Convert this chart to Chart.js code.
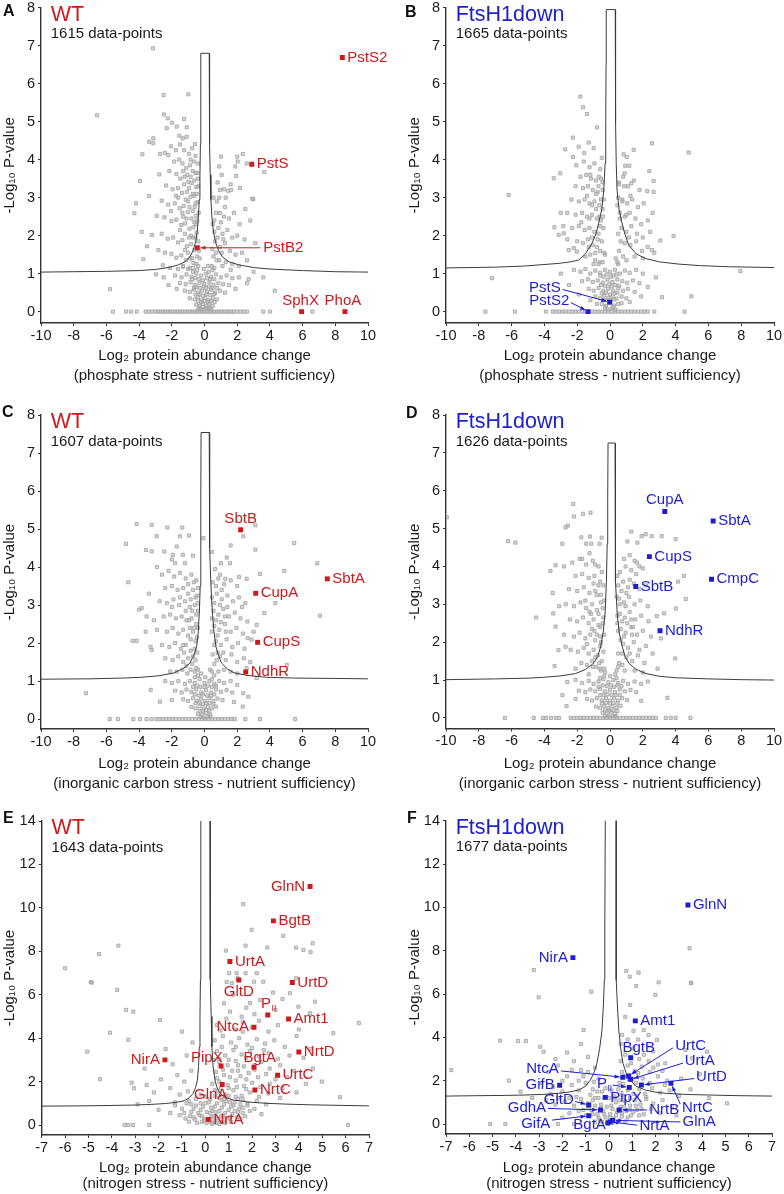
<!DOCTYPE html>
<html>
<head>
<meta charset="utf-8">
<script src="https://cdn.jsdelivr.net/npm/chart.js@4.4.1/dist/chart.umd.min.js"></script>
<style>
  body { margin: 0; background: #fff; width: 784px; height: 1194px; position: relative; overflow: hidden; }
  canvas { position: absolute; }
</style>
</head>
<body>
<canvas id="cA"></canvas>
<canvas id="cB"></canvas>
<canvas id="cC"></canvas>
<canvas id="cD"></canvas>
<canvas id="cE"></canvas>
<canvas id="cF"></canvas>
<script>
const FONT = '"Liberation Sans", Arial, Helvetica, sans-serif';
const RED = '#cc1a1d';
const BLUE = '#1d1dd2';

// tick labels
const ticksX10 = [-10, -8, -6, -4, -2, 0, 2, 4, 6, 8, 10];
const ticksX7 = [-7, -6, -5, -4, -3, -2, -1, 0, 1, 2, 3, 4, 5, 6, 7];
const ticksY8 = [0, 1, 2, 3, 4, 5, 6, 7, 8];
const ticksY14 = [0, 2, 4, 6, 8, 10, 12, 14];

// ---------- A: WT, phosphate stress ----------
const grayA = [
  [-3.15,6.93],[-6.57,5.17],[-2.5,5.7],[-0.99,5.72],[-2.48,5.19],[-2.25,5.09],[-2.0,4.97],[-1.25,5.07],[-2.31,4.83],[-1.7,4.87],
  [-1.09,4.85],[-1.54,4.63],[-1.33,4.56],[-1.09,4.6],[-3.38,4.47],[-3.13,4.43],[-3.13,4.56],[-3.8,4.14],[-2.72,4.15],[-2.42,4.18],
  [-2.21,4.12],[-0.58,4.41],[1.01,4.08],[2.34,4.15],[2.0,4.08],[0.9,3.82],[1.05,3.6],[1.88,3.82],[2.03,3.95],[2.58,3.9],
  [1.94,3.57],[2.17,3.25],[0.95,3.2],[1.2,3.22],[1.45,3.18],[1.63,3.2],[2.92,2.97],[3.66,3.68],[-3.94,3.44],[-2.76,3.61],
  [-3.39,3.04],[-4.19,2.85],[-4.29,2.59],[-3.84,2.1],[-3.74,1.38],[-2.97,0.98],[-5.78,0.59],[2.98,2.96],
  [-2.05,4.35],[-1.75,4.25],[-1.5,4.4],[-1.25,4.25],[-0.95,4.15],[-0.75,4.3],[-0.65,3.95],[-1.85,3.95],[-1.55,4.0],[-1.35,3.9],
  [-1.12,3.78],[-0.88,3.85],[-0.55,3.65],[-2.15,3.7],[-1.72,3.62],[-1.48,3.5],[-1.22,3.55],[-0.98,3.42],[-0.78,3.38],[-0.5,3.28],
  [-2.35,3.32],[-1.95,3.22],[-1.62,3.25],[-1.38,3.12],[-1.08,3.15],[-0.86,3.02],[-0.62,3.05],[-0.42,2.88],[-2.62,2.92],[-2.22,2.82],
  [-1.82,2.85],[-1.52,2.72],[-1.28,2.78],[-1.02,2.62],[-0.72,2.65],[-0.52,2.52],[-2.92,2.52],[-2.45,2.48],[-2.02,2.38],[-1.72,2.42],
  [-1.42,2.28],[-1.18,2.32],[-0.92,2.18],[-0.68,2.22],[-0.48,2.08],[-3.22,2.02],[-2.62,2.05],[-2.25,1.92],[-1.92,1.95],[-1.62,1.82],
  [-1.35,1.88],[-1.08,1.72],[-0.82,1.78],[-0.62,1.62],[-2.82,1.62],[-2.42,1.55],[-2.02,1.52],[-1.72,1.42],[-1.42,1.48],[-1.12,1.35],
  [-0.88,1.4],[-0.68,1.28],[-3.52,1.72],[-2.55,1.22],[-2.12,1.15],[-1.62,1.12],[-1.32,1.18],[-1.0,1.12],[-1.6,3.0],[-1.3,2.5],
  [-1.0,2.9],[-0.8,2.45],[-0.7,1.95],[-1.2,2.05],[-1.5,2.15],[-0.95,3.25],[-1.25,3.35],[-1.75,3.05],[-2.05,2.65],[-0.6,2.75],
  [-0.4,3.5],[-0.45,2.4],
  [0.75,2.9],[0.95,2.6],[1.25,2.75],[1.5,2.45],[1.8,2.6],[2.15,2.3],[0.6,2.4],[0.85,2.2],[1.1,2.05],[1.4,2.15],
  [1.7,1.95],[2.0,2.0],[2.45,1.9],[0.65,1.85],[0.95,1.7],[1.25,1.8],[1.55,1.6],[1.9,1.5],[2.3,1.55],[0.9,1.35],
  [1.3,1.3],[1.7,1.25],[2.1,1.2],[2.6,1.35],[2.8,2.4],[2.5,2.7],[1.3,3.0],[0.8,3.4],[1.6,3.35],[3.1,1.8],[0.55,3.0],
  [-1.8,0.95],[-1.4,0.9],[-1.1,0.98],[-0.8,0.92],[-0.5,1.0],[-0.2,0.95],[0.1,1.0],[0.4,0.92],[0.7,0.98],[1.0,0.9],
  [1.35,0.95],[1.7,0.88],[2.1,0.9],[-1.5,0.75],[-1.15,0.72],[-0.85,0.78],[-0.6,0.7],[-0.3,0.75],[0.0,0.72],[0.3,0.78],
  [0.55,0.7],[0.85,0.75],[1.15,0.72],[1.5,0.7],[-1.2,0.55],[-0.9,0.52],[-0.65,0.58],[-0.4,0.5],[-0.15,0.55],[0.15,0.52],
  [0.4,0.58],[0.65,0.5],[0.95,0.55],[1.25,0.5],[-0.9,0.35],[-0.6,0.32],[-0.4,0.38],[-0.2,0.3],[0.05,0.36],[0.25,0.3],
  [0.5,0.35],[0.75,0.32],[-0.5,0.18],[-0.3,0.15],[-0.1,0.2],[0.1,0.14],[0.3,0.2],[0.5,0.15],[-0.2,0.06],[0.0,0.05],
  [0.2,0.08],[-1.7,0.6],[-2.2,0.7],[1.9,0.6],[-2.5,0.9],[2.6,0.75],[-1.3,1.2],[-0.9,1.15],[0.2,1.2],[0.6,1.15],
  [1.1,1.2],[1.6,1.1],[2.7,0.85],[3.0,1.05],[3.6,0.9],[4.3,0.55]
];
const coreA = [
  [-0.7,1.05],[-0.45,1.1],[-0.05,1.12],[0.25,1.05],[0.5,1.1],[-0.75,0.85],[-0.55,0.88],[-0.35,0.85],[-0.1,0.82],[0.15,0.88],
  [0.35,0.85],[0.6,0.85],[-0.65,0.62],[-0.5,0.65],[-0.28,0.62],[-0.05,0.66],[0.1,0.62],[0.28,0.66],[0.5,0.62],[0.78,0.62],
  [-0.55,0.45],[-0.3,0.45],[-0.1,0.42],[0.12,0.46],[0.35,0.44],[0.6,0.46],[-0.4,0.28],[-0.2,0.25],[0.0,0.28],[0.18,0.25],
  [0.38,0.27],[0.62,0.25],[-0.3,0.1],[-0.1,0.12],[0.1,0.1],[0.3,0.1],[0.4,0.05],[-0.4,0.05],
  [-0.45,1.45],[-0.35,1.6],[-0.55,1.95],[-0.38,1.85],[-0.5,2.3],[-0.62,2.35],[-0.35,2.6],[-0.55,2.85],[-0.7,3.1],[-0.48,3.1],
  [-0.38,3.3],[-0.62,3.45],[-0.45,3.65],[-0.72,3.7],[-0.85,3.55],[-0.92,2.75],[-0.82,2.0],[-0.75,1.4],[-1.0,1.55],[-1.2,1.62],
  [-0.95,1.95],[-1.1,2.45],[-1.35,2.6],[-1.15,2.95],[-1.3,3.7],[-1.05,3.6],[-0.85,4.0],[-0.55,4.1],[-0.4,3.9],[-0.5,1.25],
  [-0.7,1.15],[-0.38,1.2],[-0.3,1.4],
  [0.45,1.2],[0.55,1.45],[0.75,1.35],[0.48,1.65],[0.7,1.55],[0.8,1.95],[0.6,2.1],[1.0,2.35],[0.7,2.6],[1.05,1.55],
  [1.15,1.9],[0.5,2.3],[0.9,3.0],[1.2,2.5]
];
const zeroA = [-5.6,-4.8,-4.5,-4.15,-3.6,-3.4,-3.2,-3.0,-2.85,-2.7,-2.55,-2.4,-2.25,-2.1,-1.95,-1.8,-1.65,-1.5,-1.35,-1.2,
  -1.05,-0.9,-0.75,-0.6,-0.45,-0.3,-0.15,0,0.15,0.3,0.45,0.6,0.75,0.9,1.05,1.2,1.35,1.5,1.65,1.8,2.0,2.2,2.4,2.6,3.6,4.0,6.6];
const curveA = [
  [-10,1.04],[-8,1.05],[-6,1.06],[-4,1.08],[-3,1.11],[-2.2,1.16],[-1.6,1.23],[-1.2,1.31],[-0.9,1.44],[-0.7,1.6],
  [-0.55,1.82],[-0.45,2.1],[-0.38,2.45],[-0.32,2.95],[-0.28,3.6],[-0.25,4.4],[-0.23,5.4],[-0.22,6.8],
  [0.29,6.8],[0.3,5.4],[0.32,4.4],[0.35,3.6],[0.39,2.95],[0.46,2.45],[0.55,2.1],[0.68,1.82],[0.86,1.6],[1.1,1.44],
  [1.5,1.31],[2.1,1.23],[3,1.16],[4,1.12],[6,1.08],[8,1.05],[10,1.04]
];
const namesA = ['PstS2', 'PstS', 'PstB2', 'SphX', 'PhoA'];
const hitsA = [[8.43,6.69],[2.89,3.88],[-0.44,1.68],[5.94,0],[8.59,0]];

// ---------- B: FtsH1down, phosphate stress ----------
const grayB = [
  [-1.81,5.66],[-1.65,5.38],[-1.4,5.2],[-0.79,4.85],[-2.26,4.58],[-1.91,4.34],[-2.73,4.27],[-1.57,4.17],[-2.26,4.07],[-3.03,3.64],
  [-3.43,3.51],[2.56,4.43],[4.8,4.19],[0.83,4.14],[1.44,4.26],[1.02,4.07],[0.93,3.84],[1.18,3.84],[2.4,3.7],[2.66,3.44],
  [0.89,3.64],[1.3,3.38],[2.27,3.17],[2.66,3.15],[-6.18,3.07],[3.07,1.87],[3.88,1.99],[2.56,1.62],[-7.2,0.88],[7.95,1.07],
  [3.17,0.38],[4.96,0.4],[-3.39,2.22],[-3.13,2.02],[-2.82,2.06],[-2.52,1.62],[-2.21,1.67],[-2.01,1.58],
  [-2.05,3.85],[-1.6,3.95],[-1.25,3.8],[-0.95,3.9],[-0.6,3.75],[-1.8,3.55],[-1.45,3.6],[-1.15,3.5],[-0.85,3.45],[-0.55,3.5],
  [-2.1,3.3],[-1.65,3.25],[-1.35,3.3],[-1.05,3.2],[-0.75,3.15],[-0.45,3.2],[-2.35,2.95],[-1.9,2.9],[-1.55,2.95],[-1.25,2.85],
  [-0.95,2.9],[-0.65,2.8],[-0.45,2.7],[-2.6,2.6],[-2.1,2.55],[-1.7,2.6],[-1.4,2.5],[-1.1,2.55],[-0.8,2.45],[-0.55,2.4],
  [-2.85,2.25],[-2.3,2.2],[-1.9,2.25],[-1.55,2.15],[-1.25,2.2],[-0.95,2.1],[-0.7,2.05],[-2.0,1.85],[-1.65,1.8],[-1.35,1.9],
  [-1.05,1.75],[-0.8,1.7],[-1.5,1.45],[-1.2,1.5],[-0.9,1.35],[-2.6,1.9],[-3.0,2.6],[-1.0,4.3],[-0.5,4.05],[-1.3,4.45],
  [-0.7,3.3],[-1.75,2.35],[-1.1,2.8],[-0.6,2.25],[-1.4,3.05],
  [0.55,3.4],[0.8,3.55],[1.1,3.3],[1.45,3.45],[1.8,3.2],[0.5,3.0],[0.75,2.95],[1.05,2.85],[1.35,2.95],[1.7,2.75],
  [2.05,2.85],[0.6,2.6],[0.9,2.5],[1.2,2.6],[1.55,2.45],[1.9,2.3],[2.3,2.4],[0.7,2.2],[1.0,2.1],[1.3,2.25],
  [1.65,2.05],[2.0,1.95],[2.45,2.1],[0.9,1.8],[1.25,1.75],[1.6,1.85],[1.95,1.6],[2.3,1.7],[1.5,1.45],[2.0,1.4],
  [2.7,1.55],[0.45,2.8],[2.6,2.6],
  [-2.2,1.1],[-1.8,1.05],[-1.5,1.12],[-1.2,1.0],[-0.9,1.08],[-0.6,1.02],[-0.3,1.1],[0.0,1.05],[0.3,1.1],[0.6,1.0],
  [0.9,1.08],[1.2,1.02],[1.6,1.1],[2.0,1.0],[-1.7,0.8],[-1.35,0.85],[-1.05,0.78],[-0.75,0.82],[-0.45,0.76],[-0.15,0.84],
  [0.15,0.78],[0.45,0.85],[0.75,0.8],[1.05,0.76],[1.4,0.82],[1.8,0.75],[-1.3,0.6],[-1.0,0.55],[-0.7,0.62],[-0.4,0.55],
  [-0.1,0.6],[0.2,0.55],[0.5,0.62],[0.8,0.55],[1.1,0.6],[1.5,0.52],[-0.9,0.4],[-0.6,0.35],[-0.35,0.42],[-0.1,0.36],
  [0.15,0.4],[0.4,0.34],[0.7,0.4],[1.0,0.35],[-0.5,0.2],[-0.25,0.15],[0.0,0.22],[0.25,0.16],[0.5,0.2],[-0.15,0.06],
  [0.1,0.08],[0.35,0.05],[-2.5,0.7],[2.3,0.65],[-3.0,1.0],[2.8,0.9],[-1.9,0.45],[1.9,0.4],[-0.6,1.3],[-0.3,1.5],
  [0.35,1.4],[0.5,1.25],[-1.0,1.25]
];
const coreB = [
  [-0.6,0.95],[-0.4,0.92],[-0.2,0.98],[0.05,0.92],[0.2,0.95],[0.4,0.98],[-0.55,0.7],[-0.3,0.68],[-0.05,0.72],[0.1,0.66],
  [0.3,0.7],[0.55,0.68],[-0.5,0.48],[-0.25,0.5],[0.0,0.45],[0.28,0.48],[0.45,0.5],[-0.4,0.3],[-0.2,0.3],[0.05,0.3],
  [0.25,0.32],[-0.3,0.1],[0.2,0.12],[-1.2,0.3],[-0.8,0.2],[0.7,0.22],[1.2,0.25],
  [-0.45,1.3],[-0.35,1.55],[-0.6,1.6],[-0.5,1.85],[-0.4,2.2],[-0.65,2.5],[-0.42,2.5],[-0.55,2.95],[-0.38,2.95],[-0.68,3.55],
  [-0.45,3.4],[-0.85,2.7],[-0.75,1.9],[-0.9,1.55],[-1.1,1.95],[-0.85,3.1],[-1.2,3.6],[-0.7,1.25],[-1.25,2.45],[-1.3,1.7],
  [0.45,1.3],[0.55,1.6],[0.5,2.05],[0.65,1.85],[0.8,1.45],[0.6,2.45],[0.75,2.9],[1.0,2.55],[1.15,1.95],[0.85,3.3],
  [1.25,3.05],[1.0,1.35],[0.55,3.35]
];
const zeroB = [-7.6,-5.8,-3.9,-3.5,-3.3,-3.1,-2.9,-2.7,-2.5,-2.3,-2.1,-1.9,-1.7,-1.5,-1.1,-0.9,-0.7,-0.5,-0.3,-0.1,
  0.1,0.3,0.5,0.7,0.9,1.1,1.3,1.5,1.7,1.9,2.1,2.3,2.7,4.55];
const curveB = [
  [-10,1.15],[-7,1.17],[-5.2,1.2],[-3.1,1.27],[-2.4,1.31],[-1.9,1.36],[-1.5,1.52],[-1.1,1.8],[-0.85,2.05],[-0.69,2.33],
  [-0.5,2.7],[-0.38,3.2],[-0.3,3.9],[-0.26,5.0],[-0.24,6.5],[-0.23,7.95],
  [0.32,7.95],[0.33,6.5],[0.35,5.0],[0.38,3.9],[0.43,3.2],[0.55,2.7],[0.73,2.33],[0.9,2.05],[1.14,1.75],[1.6,1.52],
  [2.15,1.4],[3.0,1.31],[4.2,1.25],[5.5,1.21],[7.3,1.18],[10,1.16]
];
const namesB = ['PstS', 'PstS2'];
const hitsB = [[-0.02,0.25],[-1.34,0]];

// ---------- C: WT, inorganic carbon stress ----------
const grayC = [
  [-4.8,4.61],[-4.15,5.13],[-3.23,5.11],[-2.27,5.04],[-1.36,5.04],[-2.92,4.81],[-1.5,4.81],[-0.95,4.83],[-0.07,4.76],[-3.58,4.45],
  [-3.23,4.41],[-2.46,4.41],[-1.7,4.54],[-1.33,4.32],[-1.94,4.32],[-1.8,4.1],[-4.66,3.6],[3.11,5.1],[2.37,4.81],[3.11,4.46],
  [1.6,4.57],[5.49,4.63],[6.9,4.1],[1.36,4.25],[1.56,4.1],[4.88,3.9],[3.4,3.82],[2.11,3.74],[0.95,3.8],[1.27,3.69],
  [2.58,3.69],[4.33,3.05],[3.66,2.79],[7.06,2.72],[2.62,2.57],[3.19,2.48],[-4.01,2.88],[-3.84,2.92],[-3.54,2.7],[-4.39,2.06],
  [-4.15,2.06],[-3.23,1.82],[2.64,2.13],[2.88,2.09],[2.58,1.34],[3.19,1.08],[5.03,1.43],[-3.29,0.77],[-7.25,0.68],[-2.72,0.46],
  [2.37,0.68],[2.68,0.59],[2.34,0.33],
  [-2.6,3.8],[-2.2,3.9],[-1.85,3.75],[-1.5,3.85],[-1.15,3.7],[-0.8,3.8],[-0.5,3.65],[-2.4,3.45],[-2.0,3.5],[-1.65,3.4],
  [-1.3,3.45],[-1.0,3.3],[-0.7,3.4],[-0.45,3.25],[-2.75,3.1],[-2.3,3.05],[-1.9,3.15],[-1.55,3.0],[-1.2,3.1],[-0.9,2.95],
  [-0.6,3.0],[-0.4,2.85],[-2.5,2.7],[-2.1,2.75],[-1.75,2.65],[-1.4,2.7],[-1.1,2.6],[-0.8,2.65],[-0.5,2.5],[-2.9,2.35],
  [-2.3,2.3],[-1.95,2.4],[-1.6,2.25],[-1.3,2.35],[-1.0,2.2],[-0.7,2.3],[-0.45,2.15],[-2.6,1.95],[-2.15,1.9],[-1.8,2.0],
  [-1.45,1.85],[-1.15,1.95],[-0.85,1.8],[-0.6,1.85],[-2.4,1.6],[-1.95,1.55],[-1.6,1.65],[-1.3,1.5],[-1.0,1.6],[-0.75,1.45],
  [-1.7,1.25],[-1.35,1.3],[-1.05,1.2],[-2.1,1.25],[-3.3,1.9],[-3.6,2.3],[-3.1,2.6],[-3.4,3.3],[-2.0,4.2],[-1.2,4.1],
  [-0.7,4.3],[-2.9,4.0],[-1.5,3.2],[-0.9,2.4],[-1.25,1.75],[-2.0,2.95],
  [0.5,3.6],[0.85,3.7],[1.2,3.55],[1.6,3.65],[2.0,3.5],[0.45,3.2],[0.75,3.3],[1.05,3.15],[1.4,3.25],[1.75,3.1],
  [2.1,3.2],[2.5,3.05],[0.55,2.85],[0.85,2.75],[1.15,2.9],[1.5,2.7],[1.85,2.8],[2.2,2.65],[0.6,2.45],[0.9,2.35],
  [1.25,2.5],[1.6,2.3],[1.95,2.4],[2.35,2.25],[0.7,2.05],[1.0,1.95],[1.35,2.1],[1.7,1.9],[2.05,2.0],[2.45,1.85],
  [0.95,1.65],[1.3,1.55],[1.65,1.7],[2.0,1.5],[2.4,1.6],[1.2,1.3],[1.6,1.25],[2.0,1.2],[2.8,1.5],[3.0,2.3],
  [0.65,3.95],[1.0,4.1],[0.45,4.4],[1.4,2.95],[0.8,1.75],[2.3,2.95],
  [-2.4,1.0],[-2.0,0.95],[-1.6,1.0],[-1.2,0.92],[-0.9,1.0],[-0.6,0.95],[-0.3,1.05],[0.0,0.95],[0.3,1.0],[0.6,0.92],
  [0.9,1.0],[1.2,0.95],[1.6,1.0],[2.0,0.9],[-1.8,0.75],[-1.4,0.7],[-1.1,0.78],[-0.8,0.72],[-0.5,0.78],[-0.2,0.7],
  [0.1,0.76],[0.4,0.7],[0.7,0.78],[1.0,0.72],[1.35,0.76],[1.7,0.7],[-1.3,0.52],[-1.0,0.48],[-0.7,0.55],[-0.45,0.48],
  [-0.2,0.54],[0.05,0.48],[0.3,0.55],[0.55,0.48],[0.8,0.54],[1.1,0.5],[-0.8,0.32],[-0.55,0.28],[-0.3,0.34],[-0.05,0.28],
  [0.2,0.32],[0.45,0.28],[0.7,0.33],[-0.4,0.14],[-0.15,0.12],[0.1,0.16],[0.35,0.12],[-0.05,0.04],[0.2,0.05],[-2.0,0.5],
  [1.8,0.45],[-0.2,1.2],[0.35,1.3],[-0.5,1.35],[0.6,1.15]
];
const coreC = [
  [-0.6,1.1],[-0.4,1.15],[0.05,1.1],[0.45,1.05],[-0.7,0.85],[-0.45,0.88],[-0.25,0.85],[0.0,0.84],[0.2,0.88],[0.45,0.85],
  [0.7,0.88],[-0.6,0.65],[-0.35,0.62],[-0.1,0.65],[0.15,0.62],[0.4,0.62],[0.6,0.65],[-0.55,0.42],[-0.3,0.44],[-0.1,0.4],
  [0.1,0.42],[0.32,0.42],[0.55,0.4],[-0.3,0.22],[-0.1,0.22],[0.1,0.24],[0.3,0.22],[-0.25,0.06],[0.35,0.06],
  [-0.4,1.3],[-0.55,1.55],[-0.45,1.75],[-0.7,1.65],[-0.55,2.05],[-0.4,2.4],[-0.65,2.4],[-0.5,2.75],[-0.75,2.85],[-0.38,3.05],
  [-0.55,3.2],[-0.85,3.15],[-0.4,3.45],[-0.65,3.6],[-1.0,3.55],[-0.85,2.1],[-1.1,1.4],[-0.85,1.3],[-0.95,2.6],[-1.15,2.85],
  [-0.6,1.25],[-1.3,1.95],
  [0.45,1.25],[0.6,1.45],[0.5,1.7],[0.75,1.55],[0.6,1.95],[0.45,2.3],[0.8,2.2],[0.45,2.65],[0.7,2.6],[1.0,2.55],
  [0.6,3.05],[0.95,3.0],[0.7,3.5],[1.05,3.4],[1.15,1.75],[0.85,1.25],[1.3,2.3],[1.25,2.7]
];
const zeroC = [-5.8,-5.3,-4.35,-3.95,-3.55,-3.25,-2.95,-2.75,-2.55,-2.35,-2.15,-1.95,-1.75,-1.55,-1.35,-1.15,-0.95,-0.75,
  -0.55,-0.35,-0.15,0.05,0.25,0.45,0.65,0.85,1.05,1.25,1.45,1.65,1.85,2.5,3.4,5.55];
const curveC = [
  [-10,1.05],[-7,1.06],[-5,1.08],[-3.9,1.1],[-2.8,1.14],[-1.9,1.21],[-1.3,1.33],[-0.9,1.47],[-0.65,1.68],[-0.48,1.91],
  [-0.38,2.3],[-0.32,2.79],[-0.26,3.5],[-0.23,4.5],[-0.22,6],[-0.21,7.54],
  [0.29,7.54],[0.3,6],[0.33,4.5],[0.38,3.67],[0.44,3.1],[0.5,2.7],[0.58,2.3],[0.7,1.91],[0.85,1.68],[1.05,1.47],
  [1.4,1.32],[1.8,1.22],[2.6,1.15],[3.8,1.1],[5.5,1.08],[7.9,1.07],[10,1.06]
];
const namesC = ['SbtB', 'SbtA', 'CupA', 'CupS', 'NdhR'];
const hitsC = [[2.21,4.98],[7.51,3.69],[3.13,3.31],[3.25,2.02],[2.52,1.24]];

// ---------- D: FtsH1down, inorganic carbon stress ----------
const grayD = [
  [-9.95,5.3],[-6.21,4.67],[-5.77,4.63],[-2.24,5.65],[-2.2,5.32],[-1.65,5.39],[-1.19,5.42],[-2.71,5.03],[-2.57,5.08],[-2.91,4.6],
  [-1.75,4.77],[-1.22,4.79],[-0.51,4.76],[-1.45,4.6],[-1.14,4.6],[-0.64,4.6],[-3.63,3.88],[-3.32,4.03],[-2.81,4.0],[1.3,4.92],
  [1.93,4.8],[2.17,4.85],[2.54,4.8],[3.15,4.8],[4.0,4.72],[1.06,4.66],[1.67,4.63],[4.15,3.6],[4.5,3.75],[-4.5,2.65],
  [-3.46,2.76],[-3.32,2.41],[-3.14,1.79],[-2.71,1.88],[-3.38,1.37],[-2.65,0.31],[4.62,3.14],[4.01,2.89],[3.5,0.53],[3.97,1.57],
  [3.3,2.76],[2.85,2.69],[1.2,4.3],[1.5,4.15],[1.8,4.0],[-1.7,4.2],[-1.25,4.35],[-0.9,4.05],
  [-2.3,4.1],[-1.85,4.2],[-1.45,4.05],[-1.05,4.15],[-0.7,4.0],[-2.1,3.75],[-1.7,3.8],[-1.3,3.7],[-0.95,3.75],[-0.6,3.6],
  [-2.5,3.4],[-2.0,3.35],[-1.6,3.45],[-1.25,3.3],[-0.9,3.35],[-0.55,3.25],[-2.7,3.0],[-2.2,2.95],[-1.8,3.05],[-1.45,2.9],
  [-1.1,3.0],[-0.8,2.85],[-0.45,2.9],[-2.45,2.6],[-2.0,2.55],[-1.65,2.65],[-1.3,2.5],[-1.0,2.6],[-0.7,2.45],[-0.45,2.5],
  [-2.8,2.2],[-2.2,2.15],[-1.85,2.25],[-1.5,2.1],[-1.2,2.2],[-0.9,2.05],[-0.6,2.15],[-2.4,1.8],[-1.95,1.75],[-1.6,1.85],
  [-1.3,1.7],[-1.0,1.8],[-0.75,1.65],[-1.75,1.45],[-1.4,1.4],[-1.1,1.5],[-0.85,1.35],[-2.1,1.3],[-1.3,1.15],[-3.1,2.95],
  [-3.5,3.3],[-0.5,3.85],[-1.5,3.1],[-0.95,2.3],[-0.6,1.9],[-1.25,2.8],
  [0.6,3.85],[0.95,4.0],[1.3,3.9],[1.65,4.1],[2.0,3.95],[0.5,3.5],[0.8,3.6],[1.1,3.45],[1.45,3.55],[1.8,3.4],
  [2.2,3.5],[0.55,3.15],[0.85,3.05],[1.15,3.2],[1.5,3.0],[1.85,3.1],[2.3,2.95],[0.6,2.75],[0.9,2.65],[1.2,2.8],
  [1.55,2.6],[1.9,2.7],[2.35,2.55],[0.65,2.35],[0.95,2.25],[1.3,2.4],[1.65,2.2],[2.0,2.3],[2.5,2.15],[0.8,1.95],
  [1.1,1.85],[1.45,2.0],[1.8,1.8],[2.2,1.9],[1.0,1.6],[1.35,1.5],[1.7,1.65],[2.1,1.45],[2.6,1.7],[1.5,1.25],
  [2.0,1.2],[2.9,1.3],[3.1,2.1],[0.45,2.5],[1.0,3.3],[1.4,2.4],[0.75,1.7],
  [-2.6,0.95],[-2.1,1.0],[-1.7,0.92],[-1.3,0.98],[-1.0,0.9],[-0.7,0.96],[-0.4,1.02],[-0.1,0.94],[0.2,1.0],[0.5,0.92],
  [0.8,0.98],[1.1,0.9],[1.5,0.96],[1.9,0.9],[2.3,0.96],[-1.9,0.72],[-1.5,0.68],[-1.2,0.75],[-0.9,0.7],[-0.6,0.76],
  [-0.3,0.7],[0.0,0.74],[0.3,0.68],[0.6,0.75],[0.9,0.7],[1.25,0.74],[1.6,0.68],[-1.4,0.5],[-1.1,0.46],[-0.8,0.52],
  [-0.5,0.46],[-0.25,0.52],[0.0,0.46],[0.25,0.52],[0.5,0.46],[0.75,0.52],[1.05,0.47],[-0.85,0.3],[-0.6,0.27],[-0.35,0.32],
  [-0.1,0.26],[0.15,0.31],[0.4,0.27],[0.65,0.32],[-0.45,0.14],[-0.2,0.11],[0.05,0.15],[0.3,0.11],[-0.1,0.04],[0.15,0.04],
  [-2.1,0.5],[1.9,0.45],[-0.3,1.2],[0.3,1.15],[-0.6,1.3],[0.5,1.35],[-2.9,0.6]
];
const coreD = [
  [-0.6,1.05],[-0.35,1.1],[0.0,1.1],[0.4,1.05],[-0.7,0.82],[-0.45,0.86],[-0.2,0.84],[0.05,0.86],[0.25,0.82],[0.45,0.86],
  [0.7,0.84],[-0.6,0.6],[-0.4,0.6],[-0.15,0.62],[0.1,0.6],[0.35,0.6],[0.6,0.6],[-0.5,0.38],[-0.25,0.4],[0.0,0.38],
  [0.2,0.4],[0.45,0.38],[-0.3,0.2],[-0.05,0.2],[0.2,0.2],[0.45,0.18],[-0.3,0.05],[0.35,0.05],
  [-0.35,1.3],[-0.5,1.5],[-0.4,1.75],[-0.65,1.45],[-0.55,2.0],[-0.35,2.2],[-0.6,2.4],[-0.4,2.65],[-0.7,2.75],[-0.35,3.1],
  [-0.55,3.05],[-0.8,3.25],[-0.4,3.5],[-0.7,3.5],[-1.0,3.55],[-0.8,2.2],[-1.05,1.35],[-0.9,1.6],[-1.1,2.35],[-1.15,2.75],
  [-0.55,1.25],[-1.4,1.95],
  [0.4,1.25],[0.55,1.45],[0.5,1.7],[0.75,1.4],[0.65,2.05],[0.5,2.3],[0.85,2.15],[0.45,2.7],[0.75,2.55],[1.05,2.5],
  [0.6,3.0],[0.95,2.95],[0.7,3.35],[1.2,3.65],[1.2,1.7],[0.9,1.25],[1.35,2.2],[1.3,2.6],[0.4,3.2],[0.45,3.75],
  [0.85,4.2],[1.6,3.8]
];
const zeroD = [-6.4,-4.65,-4.1,-3.9,-3.6,-3.3,-3.1,-2.4,-2.2,-2.0,-1.8,-1.6,-1.4,-1.2,-1.0,-0.8,-0.6,-0.4,-0.2,0.0,
  0.2,0.4,0.6,0.8,1.0,1.2,1.4,1.6,1.8,2.0,2.2,2.4,2.6,2.8,3.4,3.7,4.0,4.9];
const curveD = [
  [-10,1.01],[-7,1.03],[-5,1.05],[-4.1,1.07],[-3,1.11],[-2.1,1.17],[-1.5,1.28],[-1.0,1.44],[-0.75,1.62],[-0.57,1.88],
  [-0.42,2.25],[-0.3,2.76],[-0.22,3.6],[-0.17,4.6],[-0.14,5.8],[-0.12,7.26],
  [0.31,7.26],[0.32,5.8],[0.33,4.6],[0.35,3.6],[0.44,2.76],[0.56,2.25],[0.75,1.88],[0.92,1.62],[1.16,1.44],[1.6,1.28],
  [2.2,1.17],[3.0,1.1],[4.0,1.06],[6,1.03],[8,1.01],[10,1.0]
];
const namesD = ['CupA', 'SbtA', 'CupS', 'CmpC', 'SbtB', 'NdhR'];
const hitsD = [[3.34,5.45],[6.29,5.2],[2.4,4.26],[6.19,3.66],[1.57,3.47],[3.05,2.3]];

// ---------- E: WT, nitrogen stress ----------
const grayE = [
  [-6.0,7.22],[-4.55,7.87],[-3.72,8.26],[-4.9,6.58],[1.62,10.17],[1.98,8.99],[3.33,8.71],[1.72,8.26],[2.65,8.17],[3.88,8.17],
  [4.19,8.06],[4.5,7.96],[4.59,8.37],[0.88,8.03],[1.02,6.99],[1.34,6.99],[1.72,6.99],[2.2,6.99],[1.38,6.76],[2.08,6.6],
  [2.48,6.6],[0.91,6.59],[1.13,6.53],[3.88,6.76],[-3.77,6.22],[-4.86,6.56],[-3.39,5.3],[-3.08,5.22],[-1.94,4.84],[-4.08,4.25],
  [-5.05,3.38],[-3.3,3.92],[-3.15,1.95],[-3.05,1.69],[-2.51,1.84],[-4.51,2.11],[5.47,4.23],[6.57,4.69],[5.76,1.28],[4.98,2.0],
  [4.69,5.68],[3.98,5.45],[4.48,5.15],[3.62,6.07],[1.91,5.61],[2.34,5.76],[1.05,5.22],[1.55,4.99],
  [0.5,4.6],[0.9,4.9],[1.3,4.4],[1.6,4.75],[2.3,4.8],[2.7,4.3],[3.1,4.6],[0.4,3.9],[0.75,4.1],[1.1,3.8],
  [1.45,4.0],[1.8,3.7],[2.2,3.95],[2.55,3.75],[2.95,3.9],[3.4,3.6],[0.5,3.4],[0.85,3.2],[1.2,3.45],[1.55,3.25],
  [1.9,3.4],[2.3,3.15],[2.7,3.3],[3.1,3.05],[3.6,3.2],[0.6,2.9],[0.95,2.75],[1.3,2.95],[1.65,2.7],[2.4,2.9],
  [2.75,2.6],[3.2,2.75],[3.8,2.5],[0.45,2.45],[0.8,2.3],[1.15,2.5],[1.5,2.25],[1.85,2.4],[2.25,2.2],[2.6,2.35],
  [3.0,2.1],[3.5,2.2],[0.6,2.0],[0.95,1.85],[1.3,2.05],[1.65,1.8],[2.0,1.95],[2.35,1.75],[2.75,1.9],[3.3,1.7],
  [0.5,1.55],[0.85,1.4],[1.2,1.6],[1.55,1.35],[1.9,1.5],[2.3,1.3],[2.7,1.45],[3.2,1.25],[3.9,1.5],[0.7,1.15],
  [1.05,1.05],[1.4,1.2],[1.8,1.0],[2.2,1.1],[2.6,0.95],[4.3,1.9],[4.6,2.6],[4.2,3.1],[3.9,4.1],[4.5,3.5],
  [1.75,5.4],[2.1,5.1],[3.0,5.3],[0.8,5.6],[1.2,6.0],[2.9,6.1],[3.3,5.8],[4.0,4.4],[0.3,1.9],[0.35,3.0],
  [-0.6,2.5],[-0.9,2.0],[-1.2,2.3],[-0.75,1.55],[-1.1,1.4],[-1.5,1.7],[-1.9,2.1],[-2.2,1.5],[-1.4,2.8],[-0.8,3.2],
  [-2.6,2.6],[-1.7,3.5],[-2.4,1.1],[-1.3,1.05],[-0.7,1.1],[-2.9,0.95],[-0.55,3.8],[-1.0,4.3],
  [-1.3,0.9],[-1.0,0.75],[-0.8,1.0],[-0.6,0.6],[-0.4,0.9],[-0.2,0.7],[0.0,1.0],[0.2,0.55],[0.4,0.85],[0.6,0.65],
  [0.8,0.95],[1.0,0.7],[1.2,0.9],[1.4,0.6],[1.6,0.8],[1.9,0.65],[-1.1,0.45],[-0.85,0.3],[-0.65,0.4],[-0.45,0.25],
  [-0.25,0.45],[-0.05,0.3],[0.15,0.2],[0.35,0.4],[0.55,0.3],[0.75,0.45],[0.95,0.3],[1.15,0.5],[1.35,0.35],[-0.35,0.1],
  [-0.15,0.15],[0.05,0.08],[0.25,0.12],[0.45,0.1],[0.65,0.15],[-0.7,0.15],[0.85,0.1],[-1.5,0.55],[1.7,0.4],[2.1,0.75],
  [2.4,0.5],[-2.0,0.7],[-0.9,0.55],[0.3,0.65],[1.1,0.15]
];
const coreE = [
  [-0.4,1.2],[-0.2,1.4],[0.0,1.3],[0.2,1.2],[0.4,1.35],[0.6,1.25],[0.8,1.2],[1.0,1.35],[1.3,1.3],[1.6,1.2],
  [-0.6,0.95],[-0.2,1.0],[0.15,1.05],[0.5,1.0],[0.9,1.1],[1.25,1.05],[1.5,0.95],[-0.5,0.75],[-0.1,0.85],[0.25,0.8],
  [0.7,0.8],[1.1,0.85],[1.45,0.75],[1.8,0.9],[-0.3,0.55],[0.05,0.6],[0.45,0.6],[0.85,0.55],[1.25,0.65],[1.6,0.55],
  [-0.5,0.35],[-0.15,0.4],[0.25,0.35],[0.65,0.4],[1.05,0.35],[1.5,0.3],[-0.05,0.2],[0.4,0.2],[0.8,0.25],[0.3,0.05],
  [0.6,0.05],
  [0.4,1.6],[0.65,1.7],[1.0,1.7],[1.35,1.75],[1.75,1.65],[0.5,2.15],[0.75,2.55],[1.05,2.2],[1.4,2.5],[1.75,2.1],
  [2.1,2.55],[0.6,3.05],[1.0,3.0],[1.4,2.75],[1.75,3.1],[2.1,2.75],[0.7,3.6],[1.3,3.6],[2.0,3.55],[2.5,3.45],
  [1.6,4.3],[2.0,4.5],[0.65,4.35]
];
const zeroE = [-3.45, -3.3, -3.1, -2.4, 6.1];
const curveE = [
  [-7,0.87],[-5.5,0.88],[-4,0.9],[-3,0.92],[-2.3,0.95],[-1.7,0.99],[-1.2,1.05],[-0.9,1.12],[-0.7,1.25],[-0.52,1.46],
  [-0.42,1.72],[-0.34,2.07],[-0.29,2.7],[-0.26,3.6],[-0.23,5],[-0.21,6.7],[-0.2,9],[-0.19,14],[-0.19,15],
  [0.2,15],[0.2,14],[0.21,9],[0.22,6.7],[0.25,5],[0.28,3.6],[0.33,2.7],[0.41,2.07],[0.5,1.72],[0.63,1.46],[0.85,1.27],
  [1.2,1.15],[1.8,1.06],[2.6,1.0],[3.5,0.96],[4.5,0.93],[5.5,0.91],[7,0.88]
];
const namesE = ['GlnN', 'BgtB', 'UrtA', 'GltD', 'UrtD', 'PII', 'Amt1', 'NtcA', 'NirA', 'NrtD', 'PipX', 'BgtA', 'UrtC', 'GlnA', 'NrtC', 'NrtA'];
const hitsE = [[4.48,10.98],[2.91,9.4],[1.05,7.53],[1.43,6.68],[3.72,6.56],[2.67,5.07],[3.56,4.88],[2.08,4.5],
  [-1.73,3.0],[4.0,3.36],[0.67,2.72],[2.08,2.66],[3.09,2.29],[0.72,1.87],[2.12,1.61],[0.13,0.26]];

// ---------- F: FtsH1down, nitrogen stress ----------
const grayF = [
  [-3.23,7.11],[3.46,8.11],[0.74,7.06],[1.27,6.99],[0.89,6.8],[2.13,6.54],[3.53,6.5],[1.17,6.37],[-0.76,6.11],[3.52,6.52],
  [-3.02,5.85],[1.99,5.96],[-1.09,4.34],[-3.57,3.83],[-3.91,3.83],[-4.67,3.85],[-6.77,2.49],[-2.95,3.57],[-2.81,3.34],[5.07,0.95],
  [4.21,3.34],[3.28,3.42],[3.56,3.03],[2.42,2.8],[2.06,3.88],[1.49,4.34],[1.7,4.11],[0.56,4.11],[0.7,4.95],[0.91,5.49],
  [-2.6,2.4],[-2.2,2.7],[-1.8,2.2],[-1.5,2.9],[-1.2,2.5],[-0.9,3.1],[-0.6,2.6],[-2.9,1.9],[-2.4,1.7],[-2.0,1.5],
  [-1.6,1.8],[-1.3,1.55],[-1.0,1.9],[-0.7,1.6],[-0.45,2.1],[-3.3,1.2],[-2.7,1.1],[-2.3,0.9],[-1.9,1.05],[-1.5,0.85],
  [-1.2,1.15],[-0.9,0.95],[-0.6,1.2],[-0.35,0.9],[-1.7,0.5],[-1.3,0.6],[-1.0,0.4],[-0.75,0.65],[-0.5,0.45],[-0.25,0.6],
  [-0.4,0.2],[-0.15,0.3],[0.05,0.45],[0.2,0.25],[0.35,0.55],[0.55,0.35],[0.75,0.6],[0.95,0.4],[1.2,0.65],[1.5,0.45],
  [1.8,0.7],[2.2,0.5],[0.1,0.85],[0.3,1.0],[0.5,0.8],[0.7,1.05],[0.9,0.85],[1.1,1.1],[1.35,0.9],[1.6,1.15],
  [1.9,0.95],[2.3,1.1],[2.7,0.8],[0.55,1.35],[0.8,1.55],[1.05,1.4],[1.3,1.6],[1.55,1.4],[1.85,1.65],[2.2,1.45],
  [2.6,1.55],[3.0,1.3],[0.6,1.85],[0.85,2.05],[1.15,1.9],[1.45,2.1],[1.75,1.9],[2.1,2.2],[2.5,2.0],[3.1,2.1],
  [0.55,2.4],[0.8,2.7],[1.1,2.45],[1.4,2.65],[1.75,2.4],[2.1,2.75],[0.7,3.2],[1.05,3.5],[1.5,3.2],[1.9,3.35],
  [0.5,3.7],[1.25,3.9],[-1.8,3.3],[-1.2,3.7],[-2.3,3.0],[-0.3,1.5],[-0.2,1.2],[0.2,1.3],[3.5,1.6],[3.9,2.3],
  [4.3,1.2],[-3.8,1.5],[-4.3,2.0],[-2.0,0.3],[-0.05,0.1],[0.15,0.05],[2.9,0.4]
];
const coreF = [
  [-0.8,1.35],[-0.5,1.5],[-0.15,1.65],[0.1,1.55],[0.4,1.6],[-0.7,1.1],[-0.45,1.2],[0.0,1.2],[0.25,1.2],[0.45,1.1],
  [0.65,1.25],[0.9,1.2],[1.2,1.3],[-0.9,0.75],[-0.6,0.85],[-0.35,0.75],[-0.1,0.8],[0.15,0.7],[0.4,0.65],[0.65,0.8],
  [0.9,0.65],[1.15,0.85],[1.4,0.7],[-0.7,0.45],[-0.45,0.3],[-0.2,0.45],[0.05,0.3],[0.3,0.4],[0.55,0.5],[0.8,0.3],
  [1.05,0.55],[1.3,0.4],[-0.3,0.1],[0.1,0.18],[0.4,0.15],[0.7,0.12],[-0.6,0.1],
  [0.45,1.9],[0.7,2.2],[1.0,2.1],[1.25,2.35],[0.5,2.9],[0.95,2.8],[1.3,3.0],[1.7,2.9],[0.8,3.9],[1.05,4.3],
  [1.9,2.6],[2.3,2.45],[2.4,1.8],[1.6,1.25],[-1.1,2.2],[-1.6,2.5],[-2.0,2.0],[-1.4,1.25],[-1.7,1.2],[-2.2,1.2],
  [-0.9,2.4],[-0.65,1.95],[-1.3,2.0],[-2.5,1.4],[-1.1,0.65]
];
const zeroF = [-5.1, -4.45, -2.2, -1.5];
const curveF = [
  [-7,1.29],[-5.5,1.31],[-4.5,1.32],[-3.6,1.34],[-2.8,1.37],[-2.16,1.42],[-1.7,1.48],[-1.3,1.57],[-1.0,1.75],[-0.8,2.03],
  [-0.65,2.35],[-0.52,2.8],[-0.4,3.5],[-0.3,4.34],[-0.24,5.5],[-0.2,6.65],[-0.18,9],[-0.16,14],[-0.16,15],
  [0.31,15],[0.31,14],[0.31,9],[0.31,6.65],[0.36,5.5],[0.42,4.34],[0.5,3.5],[0.6,2.8],[0.74,2.35],[0.91,2.03],[1.15,1.75],
  [1.56,1.57],[2.0,1.47],[2.42,1.42],[3.2,1.37],[4.28,1.34],[5.5,1.31],[7,1.29]
];
const namesF = ['GlnN', 'NirA', 'Amt1', 'BgtB', 'UrtC', 'UrtA', 'NtcA', 'PII', 'UrtD', 'NrtC', 'GifB', 'PipX',
  'GltD', 'GdhA', 'NrtB', 'GifA', 'BgtA', 'NrtA', 'GlnA'];
const hitsF = [[3.39,10.11],[-1.55,7.68],[1.13,4.76],[0.93,3.06],[0.84,2.22],[0.93,2.06],[0.59,2.16],[0.87,1.69],
  [1.39,1.8],[2.66,1.88],[-2.12,1.79],[-0.16,1.23],[-0.87,0.88],[-0.37,0.65],[0.44,0.65],[-0.87,0.38],[-0.05,0.05],
  [0.05,0.1],[0.15,0.17]];

// label placement: [dx, dy, align, arrowStartDx, arrowStartDy] in pixels from the marker
const placeA = { PstB2: [66, 0, 'left', 63, 0], SphX: [-1, -11, 'center'], PhoA: [-2, -11, 'center'] };
const placeB = { PstS: [-49, -14.6, 'right', -47, -12.6], PstS2: [-18.7, -10.6, 'right', -17, -9] };
const placeC = { SbtB: [0, -11, 'center'] };
const placeD = { CupA: [0, -12, 'center'] };
const placeE = {
  GlnN: [-5, 0, 'right'], GltD: [0, 11.7, 'center'], PII: [-6.7, -11, 'left'], NtcA: [-5, 0, 'right'],
  NirA: [-5, 0, 'right'], PipX: [1.7, -7.7, 'right'], BgtA: [5.7, -9.6, 'center'], GlnA: [-11.5, 10.7, 'center']
};
const placeF = {
  NirA: [-5, 0, 'right'], BgtB: [8, -9.4, 'center'], UrtC: [46.6, -30, 'left', 44.3, -28],
  UrtA: [54, -18.3, 'left', 52.3, -16.3], UrtD: [54.7, -7.7, 'left', 52.7, -6.5], NtcA: [-64, -8, 'right', -61.7, -6.3],
  PII: [-32.3, -4, 'left', -16.3, -2.3], GifB: [-5, 0, 'right'], NrtC: [11, 24.4, 'left', 9.3, 20.7],
  GltD: [-15, -5, 'right', -13.7, -3.5], GdhA: [-54.3, -1.7, 'right', -52.3, -1.5], NrtB: [30, 0, 'left', 27.7, 0],
  GifA: [-38.4, 8.3, 'right', -36.7, 4.3], BgtA: [-2, 2.3, 'right'], GlnA: [70, 1.6, 'left', 68, 1.6],
  NrtA: [29.3, 4, 'left', 27, 3.3]
};

const panels = [
  { id: 'cA', x: 0, top: -20, h: 406, area: { l: 41, r: 368, t: 7.7, b: 323 }, xr: [-10, 10], yr: [-0.3, 8],
    xTicks: ticksX10, yTicks: ticksY8, lineH: 20, letter: 'A', letterAt: [3, 12], strain: 'WT', color: RED, count: 1615,
    sub: '(phosphate stress - nutrient sufficiency)', gray: grayA.concat(coreA), zero: zeroA, curve: curveA, names: namesA, hits: hitsA, place: placeA },
  { id: 'cB', x: 392, top: -20, h: 406, area: { l: 446, r: 774, t: 7.7, b: 323 }, xr: [-10, 10], yr: [-0.3, 8],
    xTicks: ticksX10, yTicks: ticksY8, lineH: 20, letter: 'B', letterAt: [405, 12.5], strain: 'FtsH1down', color: BLUE, count: 1665,
    sub: '(phosphate stress - nutrient sufficiency)', gray: grayB.concat(coreB), zero: zeroB, curve: curveB, names: namesB, hits: hitsB, place: placeB },
  { id: 'cC', x: 0, top: 387, h: 407, area: { l: 41, r: 368, t: 415, b: 729 }, xr: [-10, 10], yr: [-0.26, 8],
    xTicks: ticksX10, yTicks: ticksY8, lineH: 20, letter: 'C', letterAt: [2, 413], strain: 'WT', color: RED, count: 1607,
    sub: '(inorganic carbon stress - nutrient sufficiency)', gray: grayC.concat(coreC), zero: zeroC, curve: curveC, names: namesC, hits: hitsC, place: placeC },
  { id: 'cD', x: 392, top: 387, h: 407, area: { l: 446, r: 774, t: 415, b: 728.5 }, xr: [-10, 10], yr: [-0.28, 8],
    xTicks: ticksX10, yTicks: ticksY8, lineH: 20, letter: 'D', letterAt: [406, 413.5], strain: 'FtsH1down', color: BLUE, count: 1626,
    sub: '(inorganic carbon stress - nutrient sufficiency)', gray: grayD.concat(coreD), zero: zeroD, curve: curveD, names: namesD, hits: hitsD, place: placeD },
  { id: 'cE', x: 0, top: 793, h: 399, area: { l: 41.7, r: 369, t: 821, b: 1135 }, xr: [-7, 7], yr: [-0.46, 14],
    xTicks: ticksX7, yTicks: ticksY14, lineH: 16, letter: 'E', letterAt: [3, 819], strain: 'WT', color: RED, count: 1643,
    sub: '(nitrogen stress - nutrient sufficiency)', gray: grayE.concat(coreE), zero: zeroE, curve: curveE, names: namesE, hits: hitsE, place: placeE },
  { id: 'cF', x: 392, top: 793, h: 399, area: { l: 446, r: 772, t: 820.7, b: 1134 }, xr: [-7, 7], yr: [-0.46, 14],
    xTicks: ticksX7, yTicks: ticksY14, lineH: 16, letter: 'F', letterAt: [407, 819], strain: 'FtsH1down', color: BLUE, count: 1677,
    sub: '(nitrogen stress - nutrient sufficiency)', gray: grayF.concat(coreF), zero: zeroF, curve: curveF, names: namesF, hits: hitsF, place: placeF }
];

function drawArrow(ctx, x0, y0, x1, y1) {
  const a = Math.atan2(y1 - y0, x1 - x0);
  const ex = x1 - Math.cos(a) * 3.2, ey = y1 - Math.sin(a) * 3.2;
  ctx.beginPath(); ctx.moveTo(x0, y0); ctx.lineTo(ex, ey); ctx.stroke();
  const bx = ex - Math.cos(a) * 5, by = ey - Math.sin(a) * 5;
  ctx.beginPath();
  ctx.moveTo(ex, ey);
  ctx.lineTo(bx + Math.sin(a) * 2, by - Math.cos(a) * 2);
  ctx.lineTo(bx - Math.sin(a) * 2, by + Math.cos(a) * 2);
  ctx.closePath(); ctx.fill();
}

// panel letter, strain, count and the protein labels
function annotations(p) {
  return {
    id: 'annot' + p.letter,
    afterDraw(chart) {
      const { ctx, chartArea: a } = chart;
      const xs = chart.scales.x, ys = chart.scales.y;
      ctx.save();
      ctx.textAlign = 'left';
      ctx.textBaseline = 'middle';
      ctx.fillStyle = '#111';
      ctx.font = 'bold 16px ' + FONT;
      ctx.fillText(p.letter, p.letterAt[0] - p.x, p.letterAt[1] - p.top);
      ctx.textBaseline = 'alphabetic';
      ctx.fillStyle = p.color;
      ctx.font = '21.5px ' + FONT;
      ctx.fillText(p.strain, a.left + 9.7, a.top + 13.3);
      ctx.fillStyle = '#1a1a1a';
      ctx.font = '15px ' + FONT;
      ctx.fillText(p.count + ' data-points', a.left + 9.7, a.top + 30.7);

      ctx.fillStyle = p.color;
      ctx.strokeStyle = p.color;
      ctx.lineWidth = 1;
      ctx.textBaseline = 'middle';
      p.names.forEach((name, i) => {
        const px = xs.getPixelForValue(p.hits[i][0]);
        const py = ys.getPixelForValue(p.hits[i][1]);
        const pl = p.place[name] || [5, 0, 'left'];
        ctx.font = '15px ' + FONT;
        ctx.textAlign = pl[2];
        if (name === 'PII') {
          ctx.fillText('P', px + pl[0], py + pl[1]);
          const w = ctx.measureText('P').width;
          ctx.font = '8.5px ' + FONT;
          ctx.fillText('II', px + pl[0] + w + 0.5, py + pl[1] + 5);
        } else {
          ctx.fillText(name, px + pl[0], py + pl[1]);
        }
        if (pl.length > 3) drawArrow(ctx, px + pl[3], py + pl[4], px, py);
      });
      ctx.restore();
    }
  };
}

panels.forEach(p => {
  const cv = document.getElementById(p.id);
  const w = 392;
  cv.width = w; cv.height = p.h;
  cv.style.left = p.x + 'px'; cv.style.top = p.top + 'px';
  cv.style.width = w + 'px'; cv.style.height = p.h + 'px';
  const padL = p.x === 0 ? 0 : 13;
  const yW = p.area.l - p.x - padL;
  const xH = p.top + p.h - p.area.b;
  const axisCommon = {
    type: 'linear',
    border: { color: '#333', width: 1.4 },
    grid: { drawOnChartArea: false, drawTicks: true, tickLength: 3, color: '#333', lineWidth: 1 }
  };
  new Chart(cv, {
    type: 'scatter',
    data: {
      datasets: [
        { label: 'marked proteins', data: p.hits.map(([x, y]) => ({ x, y })), pointStyle: 'rect', pointRadius: 3.5,
          backgroundColor: p.color, borderColor: p.color, borderWidth: 0, order: 0 },
        { label: 'significance threshold', data: p.curve.map(([x, y]) => ({ x, y })), showLine: true, borderColor: '#3c3c3c',
          borderWidth: 1, pointRadius: 0, tension: 0, order: 1 },
        { label: 'proteins', data: p.gray.concat(p.zero.map(x => [x, 0])).map(([x, y]) => ({ x, y })), pointStyle: 'rect',
          pointRadius: 2.2, borderColor: '#a6a6a6', backgroundColor: 'rgba(180,180,180,0.5)', borderWidth: 0.9, order: 2 }
      ]
    },
    options: {
      responsive: false,
      animation: false,
      devicePixelRatio: 1,
      events: [],
      layout: { padding: { left: padL, right: p.x + w - p.area.r, top: p.area.t - p.top, bottom: 0 } },
      plugins: { legend: { display: false }, tooltip: { enabled: false } },
      scales: {
        x: Object.assign({}, axisCommon, {
          min: p.xr[0], max: p.xr[1],
          afterBuildTicks: s => { s.ticks = p.xTicks.map(v => ({ value: v })); },
          afterFit: s => { s.height = xH; },
          ticks: { color: '#1a1a1a', font: { family: FONT, size: 14.5 }, padding: 1, maxRotation: 0, autoSkip: false, callback: v => String(v) },
          title: { display: true, text: ['Log\u2082 protein abundance change', p.sub], color: '#1a1a1a',
            font: { family: FONT, size: 15, lineHeight: p.lineH + 'px' }, padding: 0 }
        }),
        y: Object.assign({}, axisCommon, {
          min: p.yr[0], max: p.yr[1],
          afterBuildTicks: s => { s.ticks = p.yTicks.map(v => ({ value: v })); },
          afterFit: s => { s.width = yW; },
          ticks: { color: '#1a1a1a', font: { family: FONT, size: 14.5 }, padding: 3, autoSkip: false, callback: v => String(v) },
          title: { display: true, text: '-Log\u2081\u2080 P-value', color: '#1a1a1a', font: { family: FONT, size: 15 }, padding: { top: 1, bottom: 0 } }
        })
      }
    },
    plugins: [annotations(p)]
  });
});
</script>
</body>
</html>
